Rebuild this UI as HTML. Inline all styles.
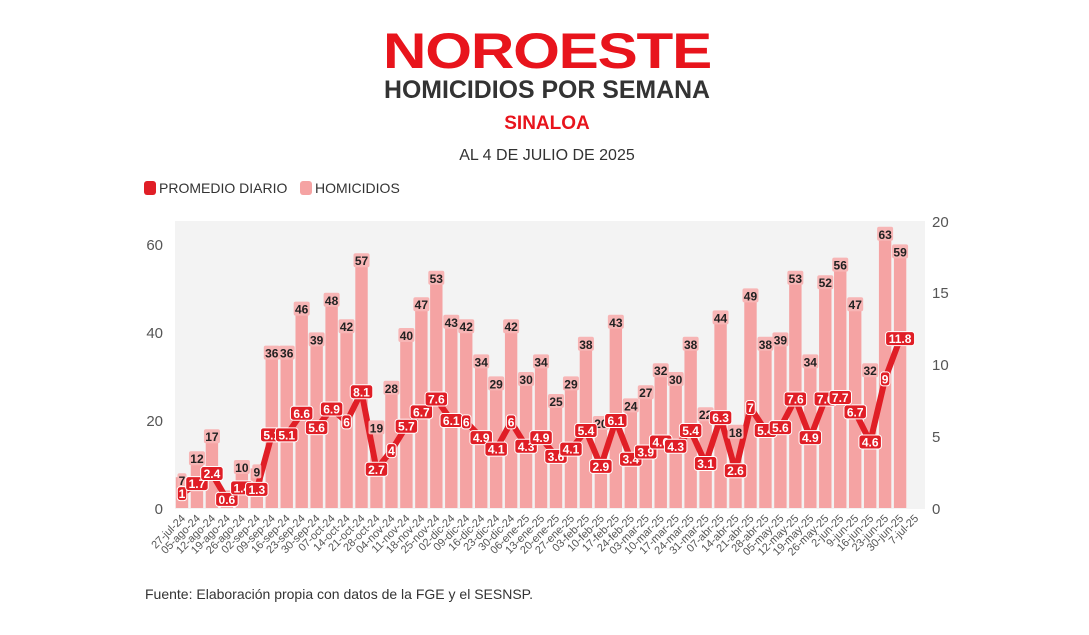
<!DOCTYPE html>
<html><head><meta charset="utf-8"><style>
body{margin:0;background:#fff;width:1089px;height:630px;overflow:hidden;font-family:"Liberation Sans",sans-serif}
</style></head><body>
<svg id="s" width="1089" height="630" xmlns="http://www.w3.org/2000/svg" font-family="Liberation Sans, sans-serif">
<text x="547" y="68" text-anchor="middle" font-size="50" font-weight="bold" fill="#e8141c" letter-spacing="-1" textLength="328" lengthAdjust="spacingAndGlyphs">NOROESTE</text>
<text x="547" y="98" text-anchor="middle" font-size="25" font-weight="bold" fill="#333" textLength="326" lengthAdjust="spacingAndGlyphs">HOMICIDIOS POR SEMANA</text>
<text x="547" y="129" text-anchor="middle" font-size="19" font-weight="bold" fill="#e8141c">SINALOA</text>
<text x="547" y="160" text-anchor="middle" font-size="16" fill="#333">AL 4 DE JULIO DE 2025</text>
<rect x="144" y="181" width="12" height="14" rx="3" fill="#e01e26"/>
<text x="159" y="193" font-size="14" fill="#333">PROMEDIO DIARIO</text>
<rect x="300" y="181" width="12" height="14" rx="3" fill="#f5a3a3"/>
<text x="315" y="193" font-size="14" fill="#333">HOMICIDIOS</text>
<rect x="175" y="221" width="750" height="288" fill="#f3f3f3"/>
<g font-size="15" fill="#555">
<text x="163" y="514" text-anchor="end">0</text>
<text x="163" y="426" text-anchor="end">20</text>
<text x="163" y="338" text-anchor="end">40</text>
<text x="163" y="250" text-anchor="end">60</text>
<text x="932" y="514">0</text>
<text x="932" y="442">5</text>
<text x="932" y="370">10</text>
<text x="932" y="298">15</text>
<text x="932" y="227">20</text>
</g>
<g id="bars"></g><g id="line"></g><g id="lbl"></g><g id="xl"></g>
<text x="145" y="599" font-size="14" fill="#333">Fuente: Elaboración propia con datos de la FGE y el SESNSP.</text>
</svg>
<script>
var L="27-jul-24,05-ago-24,12-ago-24,19-ago-24,26-ago-24,02-sep-24,09-sep-24,16-sep-24,23-sep-24,30-sep-24,07-oct-24,14-oct-24,21-oct-24,28-oct-24,04-nov-24,11-nov-24,18-nov-24,25-nov-24,02-dic-24,09-dic-24,16-dic-24,23-dic-24,30-dic-24,06-ene-25,13-ene-25,20-ene-25,27-ene-25,03-feb-25,10-feb-25,17-feb-25,24-feb-25,03-mar-25,10-mar-25,17-mar-25,24-mar-25,31-mar-25,07-abr-25,14-abr-25,21-abr-25,28-abr-25,05-may-25,12-may-25,19-may-25,26-may-25,2-jun-25,9-jun-25,16-jun-25,23-jun-25,30-jun-25,7-jul-25".split(",");
var B=[7,12,17,4,10,9,36,36,46,39,48,42,57,19,28,40,47,53,43,42,34,29,42,30,34,25,29,38,20,43,24,27,32,30,38,22,44,18,49,38,39,53,34,52,56,47,32,63,59];
var A=[1,1.7,2.4,0.6,1.4,1.3,5.1,5.1,6.6,5.6,6.9,6,8.1,2.7,4,5.7,6.7,7.6,6.1,6,4.9,4.1,6,4.3,4.9,3.6,4.1,5.4,2.9,6.1,3.4,3.9,4.6,4.3,5.4,3.1,6.3,2.6,7,5.4,5.6,7.6,4.9,7.6,7.7,6.7,4.6,9,11.8];
var NS="http://www.w3.org/2000/svg";
function el(p,t,a,txt){var e=document.createElementNS(NS,t);for(var k in a)e.setAttribute(k,a[k]);if(txt!=null)e.textContent=txt;document.getElementById(p).appendChild(e);return e;}
function cx(i){return 182+i*14.96;}
var y0=508;
B.forEach(function(v,i){var h=v*4.4;el("bars","rect",{x:cx(i)-6.2,y:y0-h,width:12.4,height:h,fill:"#f5a3a3"});});
var pts=A.map(function(v,i){return cx(i).toFixed(1)+","+(y0-v*14.35).toFixed(1);}).join(" ");
el("line","polyline",{points:pts,fill:"none",stroke:"#e01e26","stroke-width":6,"stroke-linejoin":"round"});
B.forEach(function(v,i){if(i==3)return;var y=y0-v*4.4;var s=String(v);var w=s.length*7+2;
el("lbl","rect",{x:cx(i)-w/2,y:y-4,width:w,height:14,fill:"#f7b5b5",rx:2});
el("lbl","text",{x:cx(i),y:y+8,"text-anchor":"middle","font-size":12,"font-weight":"bold",fill:"#222"},s);});
A.forEach(function(v,i){var y=y0-v*14.35;var s=String(v);var w=s.length*6.5+3;
el("lbl","rect",{x:cx(i)-w/2,y:y-7,width:w,height:14,fill:"#e01e26",stroke:"#fff","stroke-width":1,rx:3});
el("lbl","text",{x:cx(i),y:y+4.5,"text-anchor":"middle","font-size":12,"font-weight":"bold",fill:"#fff"},s);});
L.forEach(function(s,i){var x=cx(i)+4,y=519;el("xl","text",{x:x,y:y,"text-anchor":"end","font-size":11,fill:"#555",transform:"rotate(-45 "+x+" "+y+")"},s);});
</script>
</body></html>
